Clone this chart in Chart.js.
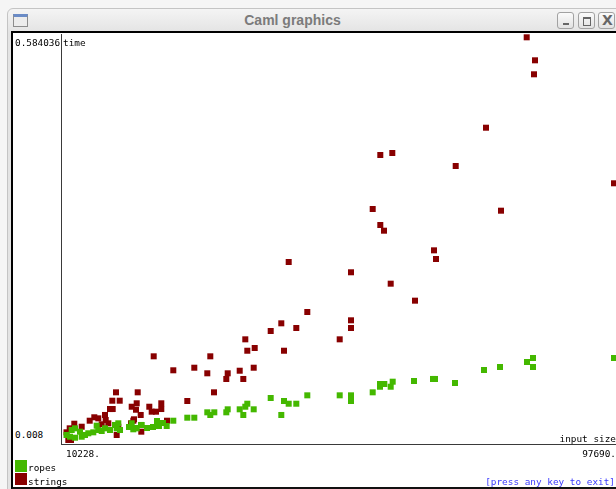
<!DOCTYPE html>
<html>
<head>
<meta charset="utf-8">
<title>Caml graphics</title>
<script src="https://cdn.jsdelivr.net/npm/chart.js@4.4.0/dist/chart.umd.min.js"></script>
<style>
body{margin:0;width:616px;height:489px;overflow:hidden;background:#f5f5f5;position:relative;}
#win{position:absolute;left:7px;top:8px;width:700px;height:520px;border:1px solid #c4c4c4;border-radius:6px 6px 0 0;background:linear-gradient(#f4f4f4,#e3e3e3 24px,#e3e3e3);}
#title{position:absolute;left:0;top:12px;width:585px;text-align:center;font:bold 14px "Liberation Sans",Arial,sans-serif;color:#7b7b7b;}
#icon{position:absolute;left:13px;top:14px;width:13px;height:9px;border:1px solid #8c8c8c;border-top:3px solid #6a8bc6;background:#ececec;}
.btn{position:absolute;top:12px;width:17px;height:17px;border:1px solid #a2a2a2;border-radius:3px;background:linear-gradient(#fbfbfb,#e2e2e2);box-sizing:border-box;}
.btn span{position:absolute;}
#frame{position:absolute;left:11px;top:31px;width:700px;height:458px;box-sizing:border-box;border-left:2px solid #000;border-top:2px solid #000;border-bottom:2px solid #111;background:#fff;}
.t{position:absolute;font-family:"DejaVu Sans Mono",monospace;font-size:9.4px;line-height:11px;color:#000;white-space:pre;}
.r{text-align:right;}
.sw{position:absolute;left:15px;width:12px;height:12px;}
#plot{position:absolute;left:51px;top:34px;}
</style>
</head>
<body>
<div id="win"></div>
<div id="icon"></div>
<div id="title">Caml graphics</div>
<div class="btn" style="left:557px"><span style="left:5px;top:10px;width:6px;height:2px;background:#666"></span></div>
<div class="btn" style="left:578px"><span style="left:4px;top:4px;width:6px;height:6px;border:1px solid #666;border-top-width:2px"></span></div>
<div class="btn" style="left:598px"><span style="left:3px;top:-1px;font:bold 14px 'DejaVu Sans',sans-serif;color:#666">X</span></div>
<div id="frame"></div>

<canvas id="plot" width="565" height="420"></canvas>

<div class="t" style="left:15px;top:37px">0.584036</div>
<div class="t" style="left:63px;top:37px">time</div>
<div class="t" style="left:15px;top:429px">0.008</div>
<div class="t r" style="right:0;top:433px">input size</div>
<div class="t" style="left:66px;top:448px">10228.</div>
<div class="t r" style="right:0;top:448px">97690.</div>
<div class="sw" style="top:460px;background:#44b800"></div>
<div class="t" style="left:28px;top:462px">ropes</div>
<div class="sw" style="top:473px;background:#880000"></div>
<div class="t" style="left:28px;top:476px">strings</div>
<div class="t r" style="right:1px;top:476px;color:#3a3aff">[press any key to exit]</div>

<script>
// measured points (input size, time)
var stringsSize = [83745, 85071, 84911, 77243, 60358, 62275, 72403, 97690, 59143, 79639,
	60358, 60949, 68936, 69256, 62019, 65901, 45724, 55677, 48696, 44542,
	55677, 55677, 42849, 46939, 53872, 38791, 39111, 40293, 44974, 33200,
	30644, 32721, 35980, 35756, 37897, 40133, 38472, 33791, 29526, 24158,
	27289, 21602, 21442, 20644, 21331, 22081, 23455, 25372, 25372, 23839,
	24526, 20899, 26283, 22177, 18136, 17545, 18727, 17608, 17177, 16378,
	16490, 15308, 14669, 13934, 15851, 16906, 11474, 12656, 10739, 10228,
	10516, 10947, 18247, 18503, 20532, 21011];
var stringsTime = [0.5840, 0.5511, 0.5311, 0.4547, 0.4157, 0.4185, 0.3999, 0.3752, 0.3384, 0.3360,
	0.3155, 0.3074, 0.2793, 0.2669, 0.2316, 0.2073, 0.2626, 0.2479, 0.1911, 0.1749,
	0.1792, 0.1682, 0.1639, 0.1682, 0.1520, 0.1520, 0.1357, 0.1396, 0.1357, 0.1277,
	0.1114, 0.1034, 0.1034, 0.0953, 0.1071, 0.1114, 0.0953, 0.0762, 0.0638, 0.1277,
	0.1077, 0.0762, 0.0605, 0.0556, 0.0513, 0.0438, 0.0556, 0.0605, 0.0523, 0.0485,
	0.0485, 0.0356, 0.0356, 0.0199, 0.0762, 0.0642, 0.0642, 0.0523, 0.0523, 0.0438,
	0.0366, 0.0390, 0.0405, 0.0356, 0.0305, 0.0319, 0.0313, 0.0270, 0.0247, 0.0190,
	0.0080, 0.0080, 0.0152, 0.0270, 0.0319, 0.0376];

var ropesSize = [97690, 84751, 84751, 83793, 79480, 76924, 72291, 69096, 68776, 65741,
	62338, 62019, 60997, 60310, 60310, 59143, 55677, 55677, 53872, 48696,
	46939, 45724, 44974, 44542, 42849, 40133, 39111, 38791, 38472, 37897,
	35980, 35756, 33839, 33200, 32721, 30644, 29526, 27289, 26235, 20212,
	21171, 22129, 23088, 24046, 25005, 25644, 24685, 20899, 18775, 10228,
	11059, 11586, 12385, 13183, 10787, 11586, 12656, 13711, 14509, 15308,
	15052, 15851, 16378, 17177, 17976, 18503, 18247, 20644, 21442, 22241];
var ropesTime = [0.1253, 0.1253, 0.1124, 0.1196, 0.1124, 0.1081, 0.0895, 0.0953, 0.0953, 0.0924,
	0.0914, 0.0842, 0.0881, 0.0881, 0.0842, 0.0762, 0.0719, 0.0638, 0.0719, 0.0719,
	0.0599, 0.0599, 0.0638, 0.0438, 0.0681, 0.0519, 0.0599, 0.0556, 0.0438, 0.0519,
	0.0519, 0.0476, 0.0476, 0.0438, 0.0476, 0.0399, 0.0399, 0.0356, 0.0280, 0.0266,
	0.0252, 0.0295, 0.0252, 0.0266, 0.0280, 0.0323, 0.0352, 0.0233, 0.0223, 0.0152,
	0.0223, 0.0247, 0.0199, 0.0152, 0.0127, 0.0113, 0.0127, 0.0176, 0.0190, 0.0223,
	0.0285, 0.0209, 0.0247, 0.0223, 0.0295, 0.0319, 0.0247, 0.0319, 0.0247, 0.0295];

// axis ends of the drawing window
var xMin = 9349, xMax = 98011;
var yMin = 0.00228, yMax = 0.58874;

function pts(xs, ys){
	var out = [];
	for (var i = 0; i < xs.length; i++) out.push({x: xs[i], y: ys[i]});
	return out;
}

var axis = {
	grid: {display: false, drawTicks: false},
	ticks: {display: false},
	border: {display: true, color: '#3a3a3a', width: 1}
};

var ctx = document.getElementById('plot').getContext('2d');
var chart = new Chart(ctx, {
	type: 'scatter',
	data: {
		datasets: [{
			label: 'ropes',
			data: pts(ropesSize, ropesTime),
			backgroundColor: '#44b800',
			pointStyle: 'rect',
			pointRadius: 4.25,
			borderWidth: 0,
			clip: false
		}, {
			label: 'strings',
			data: pts(stringsSize, stringsTime),
			backgroundColor: '#880000',
			pointStyle: 'rect',
			pointRadius: 4.25,
			borderWidth: 0,
			clip: false
		}]
	},
	options: {
		responsive: false,
		animation: false,
		events: [],
		layout: {autoPadding: false, padding: {left: 10, right: 0, top: 0, bottom: 10}},
		scales: {
			x: Object.assign({type: 'linear', min: xMin, max: xMax}, axis),
			y: Object.assign({type: 'linear', min: yMin, max: yMax}, axis)
		},
		plugins: {
			legend: {display: false},
			tooltip: {enabled: false}
		}
	}
});
</script>
</body>
</html>
